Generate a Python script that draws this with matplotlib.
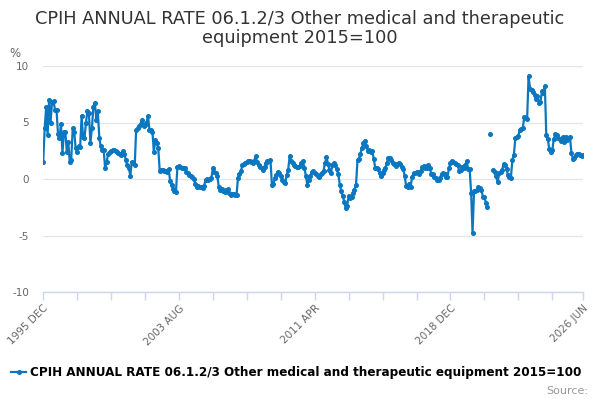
"""CPIH annual rate, other medical and therapeutic equipment"""

import matplotlib
matplotlib.use("Agg")
import matplotlib.pyplot as plt
import numpy as np
import pandas as pd

# monthly values, 1995 DEC .. 2026 JUN
rates_1995_2001 = [
    1.53, 4.5, 6.4, 3.9, 7.0, 5.0, 6.85, 6.9, 6.1, 6.1, 4.0, 3.6, 4.9,
    2.3, 4.2, 4.2, 2.4, 3.3, 1.5, 1.7, 4.5, 4.2, 2.7, 2.4, 2.9, 2.8,
    5.6, 3.7, 3.6, 5.0, 6.0, 5.8, 3.2, 4.5, 6.4, 6.75, 5.2, 6.0, 3.6,
    2.9, 2.6, 2.6, 0.95, 1.5, 2.2, 2.4, 2.5, 2.55, 2.6, 2.5, 2.4, 2.3,
    2.2, 2.1, 2.5, 2.2, 1.7, 1.2, 1.0, 0.3, 1.5, 1.4, 1.25, 4.35, 4.5,
    4.7, 4.9, 5.2, 4.7, 4.8, 5.0, 5.6, 4.35, 4.3, 4.2, 2.4, 3.45, 3.2,
    2.7, 0.7, 0.8, 0.8, 0.75, 0.7, 0.65, 0.9, -0.2,
]
rates_2003_2010 = [
    -0.5, -0.85, -1.05, -1.15, 1.1, 1.15, 1.1, 1.0, 0.95, 1.0, 0.65, 0.55,
    0.35, 0.25, 0.15, 0.0, -0.4, -0.7, -0.65, -0.75, -0.75, -0.8, -0.6,
    -0.05, 0.0, -0.05, 0.0, 0.1, 0.95, 0.65, 0.55, 0.25, -0.7, -0.95,
    -0.9, -1.05, -1.15, -0.95, -0.9, -1.25, -1.45, -1.3, -1.35, -1.4,
    -1.45, 0.1, 0.45, 0.7, 1.2, 1.35, 1.45, 1.5, 1.55, 1.6, 1.5, 1.4,
    1.6, 2.0, 1.5, 1.2, 1.1, 0.95, 0.8, 1.1, 1.4, 1.55, 1.6, 1.7, -0.55,
    -0.4, 0.05, 0.35, 0.65, 0.5, 0.3, -0.05, -0.25, -0.35, 0.35, 0.8,
    2.0, 1.6, 1.4, 1.25, 1.15, 1.1, 1.05,
]
rates_2010_2017 = [
    1.15, 1.4, 1.55, 1.0, 0.3, -0.5, -0.1, 0.3, 0.6, 0.7, 0.55, 0.45,
    0.25, 0.2, 0.4, 0.55, 0.75, 1.4, 1.95, 1.35, 0.8, 0.5, 1.25, 1.4,
    1.25, 0.85, 0.4, -0.5, -1.05, -1.5, -2.0, -2.6, -2.35, -1.5, -1.7,
    -1.6, -1.2, -0.95, -0.55, 1.7, 1.8, 2.25, 2.75, 3.2, 3.4, 2.95,
    2.45, 2.6, 2.35, 2.5, 1.8, 1.0, 1.0, 0.9, 0.5, 0.25, 0.5, 0.8, 1.0,
    1.45, 1.9, 1.9, 1.7, 1.45, 1.3, 1.15, 1.35, 1.45, 1.35, 1.1, 0.9,
    0.3, -0.65, -0.75, -0.45, -0.7, 0.2, 0.5, 0.5, 0.6, 0.6, 0.45, 0.75,
    1.05, 1.15, 1.0, 0.95,
]
rates_2017_2026 = [
    1.2, 0.95, 0.45, 0.45, 0.2, 0.05, -0.05, -0.1, 0.1, 0.45, 0.5, 0.4,
    0.15, 0.2, 0.95, 1.4, 1.55, 1.5, 1.4, 1.35, 1.2, 0.7, 0.8, 1.1, 0.95,
    1.2, 1.6, 0.9, 0.9, -1.2, -4.8, -1.1, -1.1, -1.0, -0.75, -0.8, -1.0,
    -1.55, -1.6, -2.1, -2.45, np.nan, 4.0, np.nan, 0.8, 0.6, 0.3, -0.3,
    0.5, 0.65, 0.8, 1.3, 1.2, 0.85, 0.35, 0.2, 0.1, 1.7, 2.1, 3.6, 3.75,
    3.8, 4.35, 4.45, 4.5, 5.45, 5.4, 5.3, 9.1, 8.0, 7.9, 7.7, 7.45, 7.1,
    7.35, 6.75, 6.85, 7.75, 7.6, 8.2, 3.85, 3.5, 2.65, 2.4, 2.55, 3.5,
    3.95, 3.9, 3.6, 3.5, 3.4, 3.7, 3.25, 3.75, 3.45, 3.6, 3.75, 2.3, 1.8,
    1.9, 2.1, 2.25, 2.2, 2.1, 2.05, 2.1,
]
rates = rates_1995_2001 + rates_2003_2010 + rates_2010_2017 + rates_2017_2026

tick_labels = ["1995 DEC", "2003 AUG", "2011 APR", "2018 DEC", "2026 JUN"]
y_ticks = [-10, -5, 0, 5, 10]

title = "CPIH ANNUAL RATE 06.1.2/3 Other medical and therapeutic equipment 2015=100"
blue = "#0a77c0"
axis_col = "#ccd6eb"

plt.rcParams["font.family"] = ["DejaVu Sans"]

months = pd.date_range("1995-12-01", periods=len(rates), freq="MS")
minor_idx = list(range(0, len(rates), 23)) + [len(rates) - 1]
major_idx = [0, 92, 184, 276, len(rates) - 1]

fig = plt.figure(figsize=(6, 4), dpi=100)
ax = fig.add_axes([0.072, 0.27, 0.9, 0.565])

line, = ax.plot(months, rates, color=blue, lw=1.6, marker="o", ms=2.6,
                label=title)

ax.set_xlim(months[0], months[-1])
ax.set_ylim(-10, 10)
ax.set_yticks(y_ticks)
ax.set_yticklabels([str(v) for v in y_ticks])
ax.set_xticks(months[minor_idx], minor=True)
ax.set_xticks(months[major_idx])
ax.set_xticklabels(tick_labels, rotation=45, ha="right", rotation_mode="anchor")

ax.grid(axis="y", color="#e6e6e6", lw=1)
ax.set_axisbelow(True)
for name, s in ax.spines.items():
    s.set_visible(name == "bottom")
ax.spines["bottom"].set_color(axis_col)
ax.spines["bottom"].set_linewidth(1)
ax.tick_params(axis="y", length=0, labelsize=7.5, labelcolor="#666666", pad=10)
ax.tick_params(axis="x", which="both", length=6, color=axis_col, width=1,
               labelsize=7.5, labelcolor="#666666", pad=2)

fig.text(0.5, 0.975, "CPIH ANNUAL RATE 06.1.2/3 Other medical and therapeutic\nequipment 2015=100",
         ha="center", va="top", fontsize=12.8, color="#333333", linespacing=1.05)
fig.text(0.015, 0.857, "%", fontsize=8.5, color="#666666")

fig.legend(handles=[line], loc="lower left", bbox_to_anchor=(0.0, 0.025),
           frameon=False, handlelength=1.3, handletextpad=0.3,
           prop={"weight": "bold", "size": 8.65})
fig.text(0.98, 0.01, "Source:", ha="right", va="bottom", fontsize=8,
         color="#999999")

plt.savefig("out.png")
